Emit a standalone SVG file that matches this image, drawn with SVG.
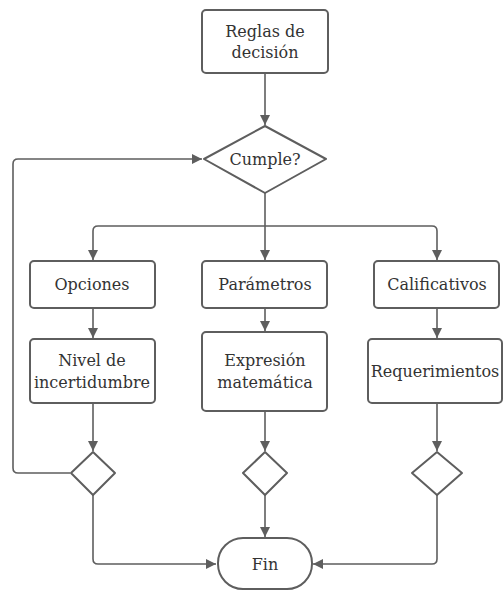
<svg xmlns="http://www.w3.org/2000/svg" width="504" height="591" viewBox="0 0 504 591">
  <style>
    .shape { fill: #ffffff; stroke: #5e5e5e; stroke-width: 2; }
    .edge { fill: none; stroke: #5e5e5e; stroke-width: 1.6; stroke-linejoin: round; }
    text { font-family: "DejaVu Serif", "Liberation Serif", serif; font-size: 16px; fill: #333333; text-anchor: middle; dominant-baseline: central; }
  </style>
  <defs>
    <marker id="arrow" viewBox="0 0 10 10" refX="10" refY="5" markerWidth="10" markerHeight="10" markerUnits="userSpaceOnUse" orient="auto">
      <path d="M0,0 L10,5 L0,10 Z" fill="#5e5e5e"/>
    </marker>
  </defs>
  <rect width="504" height="591" fill="#ffffff"/>

  <g id="connectors">
    <path class="edge" marker-end="url(#arrow)" d="M265,73 V125"/>
    <path class="edge" d="M265,193 V226"/>
    <path class="edge" marker-end="url(#arrow)" d="M265,226 H98 Q93,226 93,231 V260"/>
    <path class="edge" marker-end="url(#arrow)" d="M265,226 V260"/>
    <path class="edge" marker-end="url(#arrow)" d="M265,226 H432 Q437,226 437,231 V260"/>
    <path class="edge" marker-end="url(#arrow)" d="M93,308 V338"/>
    <path class="edge" marker-end="url(#arrow)" d="M265,308 V331"/>
    <path class="edge" marker-end="url(#arrow)" d="M437,308 V338"/>
    <path class="edge" marker-end="url(#arrow)" d="M93,403 V451"/>
    <path class="edge" marker-end="url(#arrow)" d="M265,411 V451"/>
    <path class="edge" marker-end="url(#arrow)" d="M437,403 V451"/>
    <path class="edge" marker-end="url(#arrow)" d="M70,473 H18 Q13,473 13,468 V164 Q13,159 18,159 H202"/>
    <path class="edge" marker-end="url(#arrow)" d="M93,495 V559 Q93,564 98,564 H216"/>
    <path class="edge" marker-end="url(#arrow)" d="M265,495 V537"/>
    <path class="edge" marker-end="url(#arrow)" d="M437,495 V559 Q437,564 432,564 H313"/>
  </g>

  <g id="reglas">
    <rect class="shape" x="202" y="10" width="126" height="63" rx="4"/>
    <text x="265" y="31">Reglas de</text>
    <text x="265" y="52">decisión</text>
  </g>
  <g id="cumple">
    <path class="shape" d="M265,126 L326,159 L265,193 L204,159 Z" stroke-linejoin="round"/>
    <text x="265" y="159">Cumple?</text>
  </g>
  <g id="opciones">
    <rect class="shape" x="30" y="261" width="125" height="47" rx="4"/>
    <text x="92" y="284">Opciones</text>
  </g>
  <g id="parametros">
    <rect class="shape" x="202" y="261" width="125" height="47" rx="4"/>
    <text x="265" y="284">Parámetros</text>
  </g>
  <g id="calificativos">
    <rect class="shape" x="374" y="261" width="125" height="47" rx="4"/>
    <text x="437" y="284">Calificativos</text>
  </g>
  <g id="nivel">
    <rect class="shape" x="30" y="339" width="125" height="64" rx="4"/>
    <text x="92" y="360">Nivel de</text>
    <text x="92" y="382">incertidumbre</text>
  </g>
  <g id="expresion">
    <rect class="shape" x="202" y="332" width="125" height="79" rx="4"/>
    <text x="265" y="360">Expresión</text>
    <text x="265" y="382">matemática</text>
  </g>
  <g id="requerimientos">
    <rect class="shape" x="368" y="339" width="134" height="64" rx="4"/>
    <text x="435" y="371">Requerimientos</text>
  </g>
  <g id="decision-1">
    <path class="shape" d="M93,452 L115,473 L93,495 L71,473 Z" stroke-linejoin="round"/>
  </g>
  <g id="decision-2">
    <path class="shape" d="M265,452 L287,473 L265,495 L243,473 Z" stroke-linejoin="round"/>
  </g>
  <g id="decision-3">
    <path class="shape" d="M437,452 L462,473 L437,495 L412,473 Z" stroke-linejoin="round"/>
  </g>
  <g id="fin">
    <rect class="shape" x="218" y="538" width="94" height="51" rx="25"/>
    <text x="265" y="564">Fin</text>
  </g>
</svg>
